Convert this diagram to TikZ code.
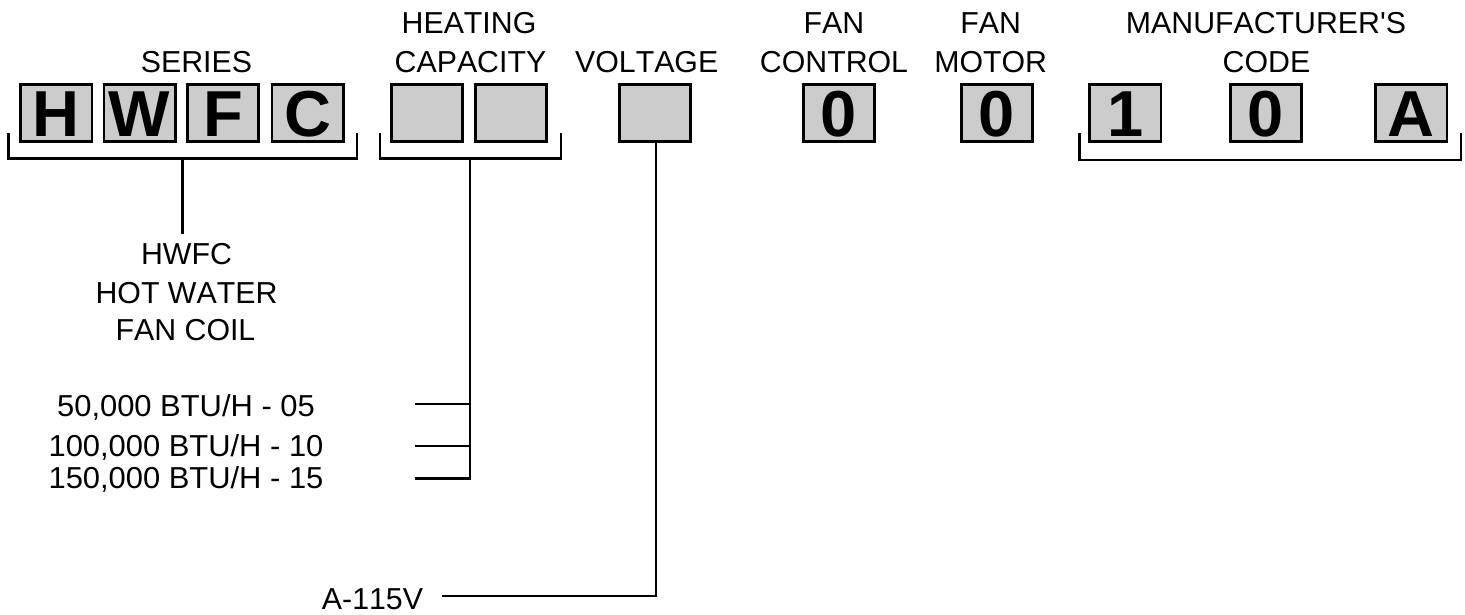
\documentclass[tikz,border=0pt]{standalone}
\usepackage{fontspec}
\setmainfont{Liberation Sans}[Kerning=Off]
\definecolor{boxgray}{RGB}{204,204,204}
\begin{document}
\begin{tikzpicture}[x=1pt,y=-1pt,
  lab/.style={font=\fontsize{30.3}{35}\selectfont, inner sep=0pt, anchor=base},
  cbox/.style={draw=black, line width=2.8pt, fill=boxgray, minimum width=71.2pt, minimum height=57.2pt,
    inner sep=0pt, text height=47pt, text depth=0pt, font=\fontsize{65}{70}\selectfont\bfseries},
  conn/.style={draw=black, line width=2.7pt, line join=miter}
]
\useasboundingbox (0,0) rectangle (1465,614);

% header labels
\node[lab] (lseries) at (196.5,72.3) {SERIES};
\node[lab] (lheat1) at (469,33.3) {HEATING};
\node[lab] (lheat2) at (470.5,72.3) {CAPACITY};
\node[lab] (lvolt) at (646.7,72.3) {VOLTAGE};
\node[lab] (lfc1) at (834,33.3) {FAN};
\node[lab] (lfc2) at (834,72.3) {CONTROL};
\node[lab] (lfm1) at (990.7,33.3) {FAN};
\node[lab] (lfm2) at (990.7,72.3) {MOTOR};
\node[lab] (lmf1) at (1266,33.3) {MANUFACTURER\textquotesingle S};
\node[lab] (lmf2) at (1266.5,72.3) {CODE};

% code boxes
\node[cbox] (bH) at (56.3,113) {H};
\node[cbox] (bW) at (139.5,113) {W};
\node[cbox] (bF) at (223,113) {F};
\node[cbox] (bC) at (307.5,113) {C};
\node[cbox] (bh1) at (426.8,113) {};
\node[cbox] (bh2) at (511,113) {};
\node[cbox] (bv) at (655,113) {};
\node[cbox] (bfc) at (838.7,113) {0};
\node[cbox] (bfm) at (997,113) {0};
\node[cbox] (bm1) at (1125.3,113) {1};
\node[cbox] (bm2) at (1265.7,113) {0};
\node[cbox] (bm3) at (1411.3,113) {A};

% series bracket
\coordinate (s1) at (8.3,133);
\coordinate (s2) at (357,158.3);
\coordinate (s3) at (357,133);
\coordinate (sstem) at (182.3,158.3);
\coordinate (send) at (182.3,234);
\draw[conn] (s1) |- (s2) -- (s3);
\draw[conn] (sstem) -- (send);

\node[lab] (hw1) at (186.5,264) {HWFC};
\node[lab] (hw2) at (186.5,303) {HOT WATER};
\node[lab] (hw3) at (185.5,340.5) {FAN COIL};

% heating bracket
\coordinate (h1) at (380,133);
\coordinate (h2) at (561,158.3);
\coordinate (h3) at (561,133);
\coordinate (hstem) at (470,158.3);
\coordinate (hb1) at (415,404);
\coordinate (hb2) at (415,446);
\coordinate (hb3) at (415,478.7);
\coordinate (hj1) at (470,404);
\coordinate (hj2) at (470,446);
\draw[conn] (h1) |- (h2) -- (h3);
\draw[conn] (hstem) |- (hb3);
\draw[conn] (hb1) -- (hj1);
\draw[conn] (hb2) -- (hj2);

\node[lab] (t05) at (186,416.7) {\scalebox{1.02}[1]{50,000 BTU/H - 05}};
\node[lab] (t10) at (186,456) {\scalebox{1.02}[1]{100,000 BTU/H - 10}};
\node[lab] (t15) at (186,488.5) {\scalebox{1.02}[1]{150,000 BTU/H - 15}};

% voltage
\coordinate (vend) at (441.7,596);
\draw[conn] ([xshift=1pt]bv.south) |- (vend);
\node[lab] (t115) at (372.5,609) {A-115V};

% manufacturer bracket
\coordinate (m1) at (1079.3,133);
\coordinate (m2) at (1461,160);
\coordinate (m3) at (1461,133);
\draw[conn] (m1) |- (m2) -- (m3);
\end{tikzpicture}
\end{document}
